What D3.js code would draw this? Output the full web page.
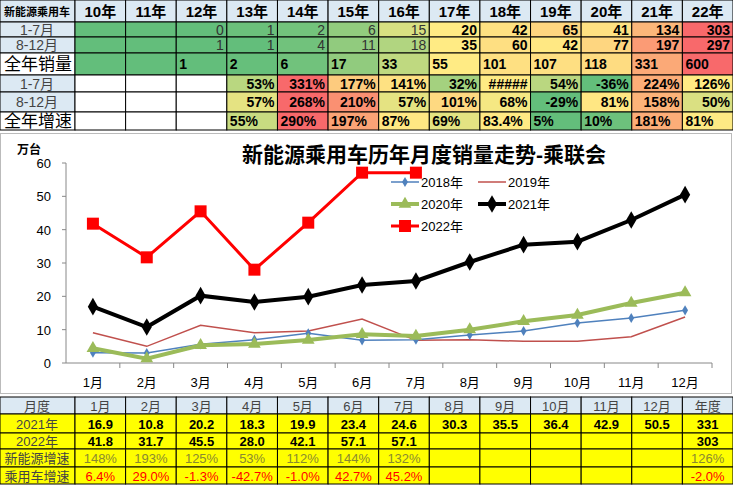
<!DOCTYPE html>
<meta charset="utf-8">
<style>
body { margin: 0; background: #fff; }
svg text { font-family: "Liberation Sans Narrow", "Liberation Sans", "Noto Sans CJK SC", sans-serif; }
</style>
<svg width="733" height="486"></svg>
<script src="https://cdn.jsdelivr.net/npm/d3@7"></script>
<script>

// ---- data ----
var years = ["10年","11年","12年","13年","14年","15年","16年","17年","18年","19年","20年","21年","22年"];
var h1 = [null,null,0,1,2,6,15,20,42,65,41,134,303];
var h2 = [null,null,1,1,4,11,18,35,60,42,77,197,297];
var fullYear = [null,null,1,2,6,17,33,55,101,107,118,331,600];
var gH1 = [null,null,null,53,331,177,141,32,"#####",54,-36,224,126];
var gH2 = [null,null,null,57,268,210,57,101,68,-29,81,158,50];
var gFull = [null,null,null,55,290,197,87,69,83.4,5,10,181,81];

var months = ["1月","2月","3月","4月","5月","6月","7月","8月","9月","10月","11月","12月"];
var s2018 = [3.1,3.0,5.6,7.0,8.9,6.8,7.0,8.4,9.6,12.0,13.5,15.8];
var s2019 = [9.1,5.0,11.3,9.1,9.6,13.2,6.8,7.0,6.5,6.5,7.9,13.8];
var s2020 = [4.4,1.3,5.3,5.7,6.9,8.6,8.1,10.0,12.5,14.4,18.0,21.1];
var s2021 = [16.9,10.8,20.2,18.3,19.9,23.4,24.6,30.3,35.5,36.4,42.9,50.5];
var s2022 = [41.8,31.7,45.5,28.0,42.1,57.1,57.1];
var yTicks = [0,10,20,30,40,50,60];

var tot2021 = "331", tot2022 = "303";
var gNev = ["148%","193%","125%","53%","112%","144%","132%"], gNevYear = "126%";
var gPv = ["6.4%","29.0%","-1.3%","-42.7%","-1.0%","42.7%","45.2%"], gPvYear = "-2.0%";

var svg = d3.select("svg");
var green = "#63be7b", yellow = "#ffeb84", red = "#f8696b";

function heat(vals) {
  var nums = vals.filter(function(v) { return typeof v === "number"; });
  var med = d3.median(nums);
  return d3.scaleLinear().domain([d3.min(nums), med, d3.max(nums)]).range([green, yellow, red]).clamp(true);
}

// ---- top table ----
var colX = d3.scaleBand().domain(years).range([75, 733]);
var rowY = [0, 22, 37, 53, 75, 92, 112, 130];
var topT = svg.append("g");

function cell(g, x, y, w, h, fill) {
  g.append("rect").attr("x", x).attr("y", y).attr("width", w).attr("height", h)
    .attr("fill", fill).attr("stroke", "#000").attr("stroke-width", 1);
}

cell(topT, 0, 0, 75, 22, "#dce9f3");
topT.append("text").attr("x", 37).attr("y", 16).attr("text-anchor", "middle")
  .attr("font-size", 11).attr("font-weight", "bold").text("新能源乘用车");
years.forEach(function(y) {
  cell(topT, colX(y), 0, colX.bandwidth(), 22, "#dce9f3");
  topT.append("text").attr("x", colX(y) + colX.bandwidth() / 2).attr("y", 17)
    .attr("text-anchor", "middle").attr("font-size", 15).attr("font-weight", "bold").text(y);
});

var rows = [
  {label: "1-7月", vals: h1, lab: "#dce9f3", pct: false, left: false, bold: false},
  {label: "8-12月", vals: h2, lab: "#dce9f3", pct: false, left: false, bold: false},
  {label: "全年销量", vals: fullYear, lab: "#fff", pct: false, left: true, bold: true, big: true},
  {label: "1-7月", vals: gH1, lab: "#dce9f3", pct: true, left: false, bold: true},
  {label: "8-12月", vals: gH2, lab: "#dce9f3", pct: true, left: false, bold: true},
  {label: "全年增速", vals: gFull, lab: "#fff", pct: true, left: true, bold: true, big: true}
];

rows.forEach(function(r, i) {
  var y0 = rowY[i + 1], h = rowY[i + 2] - y0;
  var sc = heat(r.vals);
  cell(topT, 0, y0, 75, h, r.lab);
  topT.append("text").attr("x", r.big ? 4 : 37).attr("y", y0 + h / 2 + (r.big ? 6 : 5))
    .attr("text-anchor", r.big ? "start" : "middle")
    .attr("font-size", r.big ? 17 : 14).attr("fill", r.big ? "#000" : "#444").text(r.label);
  r.vals.forEach(function(v, j) {
    var x = colX(years[j]);
    var fill = (v === null) ? (r.pct ? "#fff" : green) : (typeof v === "number" ? sc(v) : yellow);
    cell(topT, x, y0, colX.bandwidth(), h, fill);
    if (v === null) return;
    var t = typeof v === "number" ? (r.pct ? v + "%" : String(v)) : v;
    var light = !r.pct && !r.bold && j <= 6;
    topT.append("text")
      .attr("x", r.left ? x + 3 : x + colX.bandwidth() - 3)
      .attr("y", y0 + h / 2 + 5)
      .attr("text-anchor", r.left ? "start" : "end")
      .attr("font-size", 14)
      .attr("font-weight", light ? "normal" : "bold")
      .attr("fill", light ? "#333" : "#000")
      .text(t);
  });
});

// ---- chart ----
svg.append("rect").attr("x", 0.5).attr("y", 133.5).attr("width", 731).attr("height", 260)
  .attr("fill", "#fff").attr("stroke", "#bbb");

var x = d3.scaleBand().domain(months).range([66, 712]);
var y = d3.scaleLinear().domain([0, 60]).range([363, 163]);
var cx = function(d, i) { return x(months[i]) + x.bandwidth() / 2; };

var ch = svg.append("g");
ch.append("line").attr("x1", 66).attr("x2", 66).attr("y1", 163).attr("y2", 363).attr("stroke", "#888");
ch.append("line").attr("x1", 66).attr("x2", 712).attr("y1", 363).attr("y2", 363).attr("stroke", "#888");
yTicks.forEach(function(t) {
  ch.append("line").attr("x1", 62).attr("x2", 66).attr("y1", y(t)).attr("y2", y(t)).attr("stroke", "#888");
  ch.append("text").attr("x", 51).attr("y", y(t) + 5).attr("text-anchor", "end").attr("font-size", 13).text(t);
});
months.forEach(function(m) {
  ch.append("line").attr("x1", x(m) + x.bandwidth()).attr("x2", x(m) + x.bandwidth())
    .attr("y1", 363).attr("y2", 368).attr("stroke", "#888");
  ch.append("text").attr("x", x(m) + x.bandwidth() / 2).attr("y", 387)
    .attr("text-anchor", "middle").attr("font-size", 13).text(m);
});
ch.append("text").attr("x", 17).attr("y", 154).attr("font-size", 12).attr("font-weight", "bold").text("万台");
ch.append("text").attr("x", 424).attr("y", 162).attr("text-anchor", "middle")
  .attr("font-size", 21).attr("font-weight", "bold")
  .attr("font-family", "Noto Sans CJK SC").text("新能源乘用车历年月度销量走势-乘联会");

var line = d3.line().x(cx).y(function(d) { return y(d); });

function marker(g, type, px, py, color) {
  if (type === "diamond") g.append("path").attr("d", d3.symbol(d3.symbolDiamond, 30)()).attr("transform", "translate(" + px + "," + py + ")").attr("fill", color);
  if (type === "bigdiamond") g.append("path").attr("d", d3.symbol(d3.symbolDiamond, 90)()).attr("transform", "translate(" + px + "," + py + ")").attr("fill", color);
  if (type === "triangle") g.append("path").attr("d", d3.symbol(d3.symbolTriangle, 70)()).attr("transform", "translate(" + px + "," + py + ")").attr("fill", color);
  if (type === "square") g.append("rect").attr("x", px - 6).attr("y", py - 6).attr("width", 12).attr("height", 12).attr("fill", color);
}

var series = [
  {name: "2019年", data: s2019, color: "#c0504d", w: 1.5, m: null},
  {name: "2018年", data: s2018, color: "#4f81bd", w: 1.5, m: "diamond"},
  {name: "2020年", data: s2020, color: "#9bbb59", w: 4, m: "triangle"},
  {name: "2021年", data: s2021, color: "#000", w: 4, m: "bigdiamond"},
  {name: "2022年", data: s2022, color: "#ff0000", w: 3, m: "square"}
];
series.forEach(function(s) {
  ch.append("path").datum(s.data).attr("d", line).attr("fill", "none")
    .attr("stroke", s.color).attr("stroke-width", s.w);
  if (s.m) s.data.forEach(function(d, i) { marker(ch, s.m, cx(d, i), y(d), s.color); });
});

// legend
var legPos = {"2018年": [391, 182], "2019年": [478, 182], "2020年": [391, 204], "2021年": [478, 204], "2022年": [391, 226]};
series.forEach(function(s) {
  var p = legPos[s.name];
  ch.append("line").attr("x1", p[0]).attr("x2", p[0] + 28).attr("y1", p[1]).attr("y2", p[1])
    .attr("stroke", s.color).attr("stroke-width", s.w);
  if (s.m) marker(ch, s.m, p[0] + 14, p[1], s.color);
  ch.append("text").attr("x", p[0] + 30).attr("y", p[1] + 5).attr("font-size", 13).text(s.name);
});

// ---- bottom table ----
var bx = d3.scaleBand().domain(months.concat(["年度"])).range([75, 733]);
var by = [397, 414, 433, 449, 467, 484];
var bt = svg.append("g");
var bLabels = ["月度", "2021年", "2022年", "新能源增速", "乘用车增速"];
var bRows = [
  months.concat(["年度"]),
  s2021.map(function(v) { return v.toFixed(1); }).concat([tot2021]),
  s2022.map(function(v) { return v.toFixed(1); }).concat([null,null,null,null,null, tot2022]),
  gNev.concat([null,null,null,null,null, gNevYear]),
  gPv.concat([null,null,null,null,null, gPvYear])
];
bRows.forEach(function(r, i) {
  var y0 = by[i], h = by[i + 1] - y0;
  var fill = i === 0 ? "#dce9f3" : "#ffff00";
  cell(bt, 0, y0, 75, h, fill);
  bt.append("text").attr("x", 37).attr("y", y0 + h / 2 + 5).attr("text-anchor", "middle")
    .attr("font-size", 13).attr("fill", "#444").text(bLabels[i]);
  r.forEach(function(v, j) {
    var xx = bx(bx.domain()[j]);
    cell(bt, xx, y0, bx.bandwidth(), h, fill);
    if (v === null) return;
    bt.append("text").attr("x", xx + bx.bandwidth() / 2).attr("y", y0 + h / 2 + 5)
      .attr("text-anchor", "middle").attr("font-size", 13)
      .attr("font-weight", (i === 1 || i === 2) ? "bold" : "normal")
      .attr("fill", i === 3 ? "#8a8a30" : i === 4 ? "#ff0000" : i === 0 ? "#444" : "#000")
      .text(v);
  });
});

</script>
